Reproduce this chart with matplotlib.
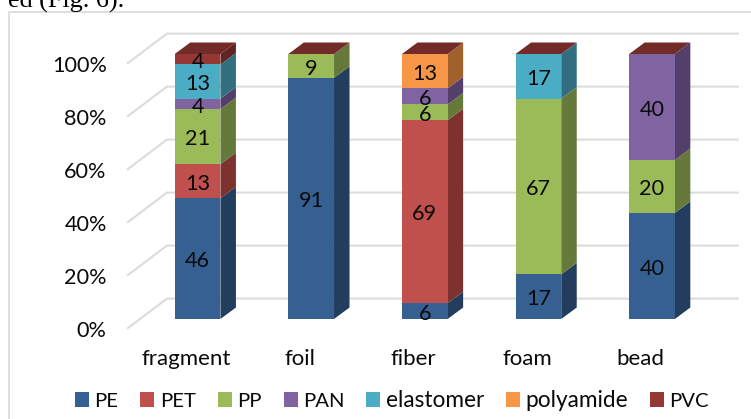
import matplotlib
matplotlib.use("Agg")
import matplotlib.pyplot as plt
from matplotlib.lines import Line2D
from matplotlib.patches import Patch, Polygon
import numpy as np

categories = ["fragment", "foil", "fiber", "foam", "bead"]
series_names = ["PE", "PET", "PP", "PAN", "elastomer", "polyamide", "PVC"]
PE = [46, 91, 6, 17, 40]
PET = [13, 0, 69, 0, 0]
PP = [21, 9, 6, 67, 20]
PAN = [4, 0, 6, 0, 40]
elastomer = [13, 0, 0, 17, 0]
polyamide = [0, 0, 13, 0, 0]
PVC = [4, 0, 0, 0, 0]
series_values = [PE, PET, PP, PAN, elastomer, polyamide, PVC]
y_ticks = [0, 20, 40, 60, 80, 100]

front = ["#366092", "#C0504D", "#9BBB59", "#8064A2", "#4BACC6", "#F79646", "#953735"]
side = ["#223D5E", "#7D3230", "#65793A", "#533F69", "#316F80", "#A0612D", "#612422"]
top_col = "#722B29"
grid = "#DCDCDC"
font = "Lato"
fs = 15.6
ink = "#0A0A0A"

W, H = 751, 419
fig = plt.figure(figsize=(W / 100, H / 100), dpi=100)
ax = fig.add_axes([0, 0, 1, 1])
# data scale: category index on x, percent on y (front plane of the bars)
x_px0, x_step = 197.6, 113.6
y_px0, y_step = 319.0, 2.65
ax.set_xlim((0 - x_px0) / x_step, (W - x_px0) / x_step)
ax.set_ylim((y_px0 - H) / y_step, y_px0 / y_step)
ax.axis("off")

bar_w = 0.402
dx, dy = 15.5 / x_step, 11.5 / y_step

# floor/wall gridlines
gl_x0, gl_x1, gl_x2 = -0.613, -0.27, 4.756
gl_front, gl_back = -3.4, 7.7
for t in y_ticks:
    ax.plot([gl_x0, gl_x1, gl_x2], [t + gl_front, t + gl_back, t + gl_back],
            color=grid, lw=1.5, solid_joinstyle="miter", zorder=1)
    ax.text(-0.80, t - 4.4, f"{t}%", ha="right", va="center",
            family=font, fontsize=fs, color=ink, zorder=6)

vals = np.array(series_values, dtype=float)
totals = vals.sum(axis=0)
pct = vals / totals * 100
bottoms = np.vstack([np.zeros(len(categories)), np.cumsum(pct, axis=0)[:-1]])

for s in range(len(series_names)):
    for i in range(len(categories)):
        b, h = bottoms[s, i], pct[s, i]
        l, r = i - bar_w / 2, i + bar_w / 2
        if h > 0:
            ax.add_patch(Polygon([(r, b), (r + dx, b + dy), (r + dx, b + h + dy), (r, b + h)],
                                 closed=True, fc=side[s], ec="none", zorder=3))
            ax.bar(i, h, width=bar_w, bottom=b, color=front[s], linewidth=0, zorder=4)
            ax.text(i, b + h / 2 - 1.0, f"{vals[s, i]:.0f}", ha="center", va="center",
                    family=font, fontsize=fs, color=ink, zorder=6)
        if s == len(series_names) - 1:
            t = b + h
            ax.add_patch(Polygon([(l, t), (r, t), (r + dx, t + dy), (l + dx, t + dy)],
                                 closed=True, fc=top_col, ec="none", zorder=4))

for i, c in enumerate(categories):
    ax.text(i - 0.1, -15.0, c, ha="center", va="center", family=font,
            fontsize=fs + 0.4, color=ink, zorder=6)

handles = [Patch(fc=c, ec="none", label=n) for c, n in zip(front, series_names)]
leg = fig.legend(handles=handles, loc="center left", bbox_to_anchor=(75 / W, 1 - 400.5 / H),
                 ncol=7, frameon=False, borderpad=0, borderaxespad=0, handlelength=0.65,
                 handleheight=0.65, handletextpad=0.24, columnspacing=1.02,
                 prop={"family": font, "size": fs}, labelcolor=ink)
for txt in leg.get_texts():
    txt.set_fontsize(14.6 if txt.get_text().isupper() else 16.3)

# chart frame
fig.add_artist(Line2D([9 / W, 9 / W, 1], [0, 1 - 12.5 / H, 1 - 12.5 / H], color="#D9D9D9", lw=1.2))
# clipped body text above the chart
fig.text(8 / W, 1 - 8 / H, "ed (Fig. 6).", family="Liberation Serif", fontsize=18.8,
         ha="left", va="baseline", color="black")

fig.savefig("out.png", dpi=100)
